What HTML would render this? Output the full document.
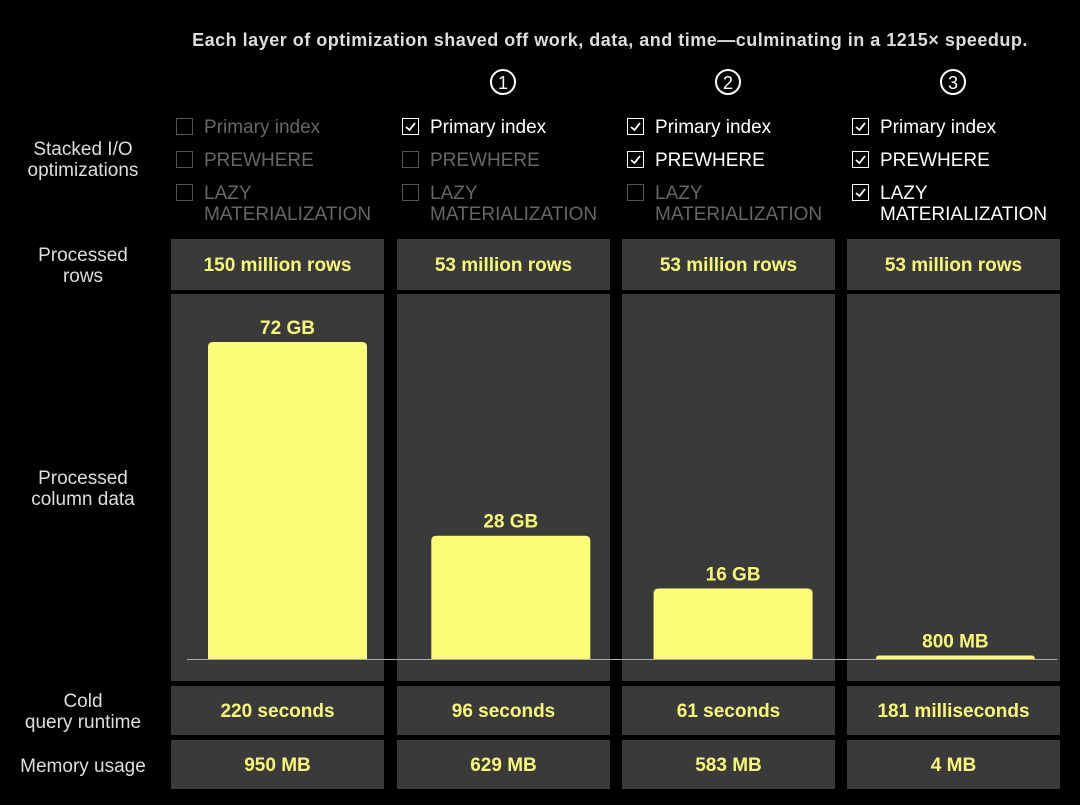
<!DOCTYPE html>
<html><head><meta charset="utf-8"><style>
body{margin:0;background:#000;width:1080px;height:805px;position:relative;overflow:hidden;font-family:"Liberation Sans",sans-serif}
.a{position:absolute}
.box{position:absolute;background:#3a3a3a;color:#f8f878;font-weight:bold;font-size:19px;display:flex;align-items:center;justify-content:center;padding-top:2px;box-sizing:border-box}
.lbl{position:absolute;color:#ddd;font-size:19px;text-align:center;width:166px;left:0;line-height:21px}
.opt{position:absolute;font-size:19px;line-height:21px}
.cb{position:absolute;width:17px;height:17px;border:1px solid;box-sizing:border-box}
.num{position:absolute;width:26px;height:26px;border:2px solid #fff;border-radius:50%;color:#fff;font-size:18px;text-align:center;line-height:24px;box-sizing:border-box}
</style></head><body>
<div class="a" style="left:150px;top:30px;width:920px;text-align:center;color:#ddd;font-weight:bold;font-size:18px;letter-spacing:0.5px">Each layer of optimization shaved off work, data, and time—culminating in a 1215× speedup.</div>
<div class="lbl" style="top:139px">Stacked I/O<br>optimizations</div>
<div class="lbl" style="top:245px">Processed<br>rows</div>
<div class="lbl" style="top:468px">Processed<br>column data</div>
<div class="lbl" style="top:691px">Cold<br>query runtime</div>
<div class="lbl" style="top:756px">Memory usage</div>
<svg id="chart" class="a" style="left:0;top:0" width="1080" height="805"></svg>
<script>
const colLeft=[171,397,622,847];
const colNames=['baseline','step-1','step-2','step-3'];
const rowsText=['150 million rows','53 million rows','53 million rows','53 million rows'];
const dataGB=[72,28,16,0.8];
const dataLabels=['72 GB','28 GB','16 GB','800 MB'];
const runtimes=['220 seconds','96 seconds','61 seconds','181 milliseconds'];
const memory=['950 MB','629 MB','583 MB','4 MB'];
const optNames=['Primary index','PREWHERE','LAZY<br>MATERIALIZATION'];
const optOn=[[0,0,0],[1,0,0],[1,1,0],[1,1,1]];
const stepNums=['','①','②','③'];
const W=213,base=659,scale=317/72;
const y=v=>base-v*scale;
const svg=document.getElementById('chart');
const NS='http://www.w3.org/2000/svg';
function box(x,t,h,txt,name){const d=document.createElement('div');d.className='box';d.style.left=x+'px';d.style.top=t+'px';d.style.width=W+'px';d.style.height=h+'px';d.innerHTML=txt;


document.body.appendChild(d);}
colLeft.forEach((x,i)=>{
 box(x,239,51,rowsText[i],'rows-cell-'+colNames[i]);
 box(x,686,49,runtimes[i],'runtime-cell-'+colNames[i]);
 box(x,740,49,memory[i],'memory-cell-'+colNames[i]);
 const p=document.createElementNS(NS,'rect');p.setAttribute('x',x);p.setAttribute('y',294);p.setAttribute('width',W);p.setAttribute('height',387);p.setAttribute('fill','#3a3a3a');
 
 
 svg.appendChild(p);
 const bx=x+37-i*2.7,bw=159,top=y(dataGB[i]);
 const b=document.createElementNS(NS,'path');
 const r=Math.min(5,base-top);
 b.setAttribute('d',`M${bx},${base}V${top+r}Q${bx},${top} ${bx+r},${top}H${bx+bw-r}Q${bx+bw},${top} ${bx+bw},${top+r}V${base}Z`);
 b.setAttribute('fill','#fdfd78');
 
 
 svg.appendChild(b);
 const t=document.createElementNS(NS,'text');t.setAttribute('x',bx+bw/2);t.setAttribute('y',top-8);t.setAttribute('text-anchor','middle');t.setAttribute('fill','#f8f878');t.setAttribute('font-weight','bold');t.setAttribute('font-size','19');t.setAttribute('font-family','Liberation Sans, sans-serif');t.textContent=dataLabels[i];
 
 
 svg.appendChild(t);
 if(stepNums[i]){const n=document.createElement('div');n.className='num';n.style.left=(x+93)+'px';n.style.top='69px';n.textContent=i;
 
 
 document.body.appendChild(n);}
 optNames.forEach((o,j)=>{const on=optOn[i][j];const c=on?'#fff':'#555';const tc=on?'#fff':'#666';
  const cb=document.createElement('div');cb.className='cb';cb.style.left=(x+5)+'px';cb.style.top=(118+j*33)+'px';cb.style.borderColor=c;
  if(on)cb.innerHTML='<svg width="15" height="15" style="position:absolute;left:0;top:0"><path d="M3 8L6.5 11L12 4" stroke="#fff" stroke-width="1.8" fill="none"/></svg>';
  
  
  document.body.appendChild(cb);
  const l=document.createElement('div');l.className='opt';l.style.left=(x+33)+'px';l.style.top=(117+j*33)+'px';l.style.color=tc;l.innerHTML=o;
  
  
  document.body.appendChild(l);});
});
const ln=document.createElementNS(NS,'line');ln.setAttribute('x1',187);ln.setAttribute('x2',1057);ln.setAttribute('y1',base+0.5);ln.setAttribute('y2',base+0.5);ln.setAttribute('stroke','#aaa');ln.setAttribute('stroke-width','1');


svg.appendChild(ln);
</script>
</body></html>
